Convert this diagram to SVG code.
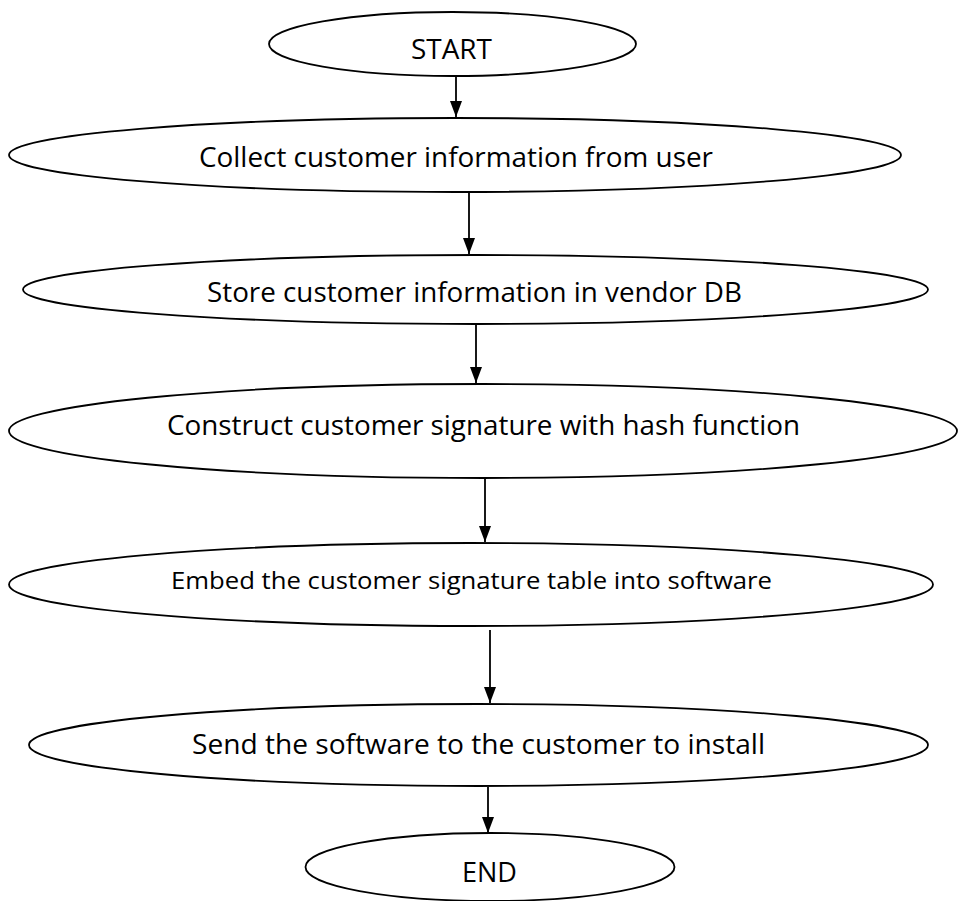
<svg xmlns="http://www.w3.org/2000/svg" width="960" height="901" viewBox="0 0 960 901">
<defs>
<style>
.n{fill:#fff;stroke:#000;stroke-width:1.8}
.t{font-family:"Open Sans","Liberation Sans",sans-serif;font-size:27px;fill:#000}
.s{font-size:24px}
.c{stroke:#000;stroke-width:1.8;fill:none}
</style>
<marker id="ah" markerWidth="16" markerHeight="12" refX="16" refY="6" orient="auto" markerUnits="userSpaceOnUse">
<path d="M0,0 L16,6 L0,12 Z" fill="#000"/>
</marker>
</defs>
<rect width="960" height="901" fill="#fff"/>
<g id="connectors">
<line class="c" x1="456" y1="77" x2="456" y2="117" marker-end="url(#ah)"/>
<line class="c" x1="469" y1="192" x2="469" y2="254" marker-end="url(#ah)"/>
<line class="c" x1="476" y1="325" x2="476" y2="383" marker-end="url(#ah)"/>
<line class="c" x1="485" y1="479" x2="485" y2="542" marker-end="url(#ah)"/>
<line class="c" x1="490" y1="630" x2="490" y2="703" marker-end="url(#ah)"/>
<line class="c" x1="488" y1="787" x2="488" y2="833" marker-end="url(#ah)"/>
</g>
<g id="start">
<ellipse class="n" cx="452.5" cy="44" rx="183.5" ry="32"/>
<text class="t" x="411" y="59" textLength="81" lengthAdjust="spacingAndGlyphs">START</text>
</g>
<g id="collect">
<ellipse class="n" cx="455" cy="155" rx="446" ry="37"/>
<text class="t" x="199" y="167" textLength="514" lengthAdjust="spacingAndGlyphs">Collect customer information from user</text>
</g>
<g id="store">
<ellipse class="n" cx="475.5" cy="289.5" rx="452.5" ry="34.5"/>
<text class="t" x="207" y="302" textLength="535" lengthAdjust="spacingAndGlyphs">Store customer information in vendor DB</text>
</g>
<g id="construct">
<ellipse class="n" cx="483" cy="431" rx="474" ry="47"/>
<text class="t" x="167" y="435" textLength="633" lengthAdjust="spacingAndGlyphs">Construct customer signature with hash function</text>
</g>
<g id="embed">
<ellipse class="n" cx="471" cy="584.5" rx="462" ry="41.5"/>
<text class="t s" x="171" y="589" textLength="601" lengthAdjust="spacingAndGlyphs">Embed the customer signature table into software</text>
</g>
<g id="send">
<ellipse class="n" cx="478.5" cy="745" rx="449.5" ry="41"/>
<text class="t" x="192" y="754" textLength="573" lengthAdjust="spacingAndGlyphs">Send the software to the customer to install</text>
</g>
<g id="end">
<ellipse class="n" cx="490" cy="867" rx="184.5" ry="34"/>
<text class="t" x="462" y="882" textLength="55" lengthAdjust="spacingAndGlyphs">END</text>
</g>
</svg>
